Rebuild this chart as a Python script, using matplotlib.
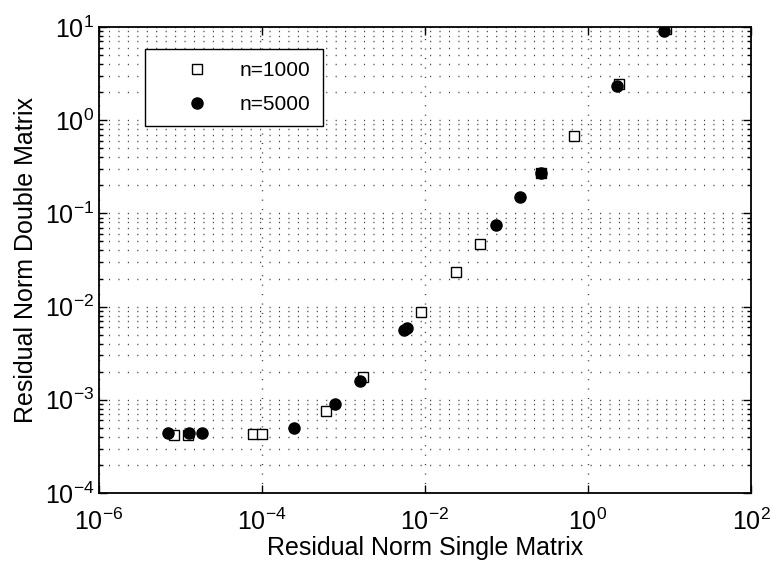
import numpy as np
import matplotlib
matplotlib.use('Agg')
import matplotlib.pyplot as plt
from matplotlib.ticker import LogLocator, NullLocator

plt.rcParams['font.family'] = ['Liberation Sans', 'DejaVu Sans']
plt.rcParams['mathtext.default'] = 'regular'

# residual norms
n1000_single = [8.3e-6, 1.24e-5, 7.8e-5, 1.0e-4, 6.1e-4, 1.73e-3, 8.9e-3,
                0.024, 0.047, 0.265, 0.673, 2.40, 9.06]
n1000_double = [4.2e-4, 4.2e-4, 4.3e-4, 4.3e-4, 7.6e-4, 1.76e-3, 8.75e-3,
                0.0235, 0.047, 0.271, 0.676, 2.45, 9.5]

n5000_single = [7.0e-6, 1.27e-5, 1.84e-5, 2.47e-4, 7.9e-4, 1.59e-3, 5.5e-3,
                6.0e-3, 0.0743, 0.147, 0.265, 2.27, 8.57]
n5000_double = [4.4e-4, 4.4e-4, 4.4e-4, 5.0e-4, 9.0e-4, 1.59e-3, 5.6e-3,
                5.9e-3, 0.075, 0.150, 0.27, 2.33, 9.06]

fig = plt.figure(figsize=(7.71, 5.64), dpi=100)
ax = fig.add_axes([99/771, 71/564, 652/771, 466/564])

ax.loglog(n1000_single, n1000_double, 's', markersize=7.5, markerfacecolor='white',
          markeredgecolor='black', markeredgewidth=1.0, label='n=1000')
ax.loglog(n5000_single, n5000_double, 'o', markersize=8, color='black',
          label='n=5000')

ax.set_xlim(1e-6, 1e2)
ax.set_ylim(1e-4, 1e1)

ax.xaxis.set_major_locator(LogLocator(base=100))
ax.xaxis.set_minor_locator(NullLocator())
ax.yaxis.set_major_locator(LogLocator(base=10))
ax.yaxis.set_minor_locator(LogLocator(base=10, subs=np.arange(2, 10)))

gridstyle = dict(linestyle=(0, (0.8, 6)), color='0.25', linewidth=1.0)
ax.xaxis.grid(True, which='major', **gridstyle)
ax.yaxis.grid(True, which='both', **gridstyle)

ax.tick_params(which='both', direction='in', top=True, right=True,
               labelsize=18, width=1.0)
ax.tick_params(which='major', length=6)
ax.tick_params(which='minor', length=3)
ax.tick_params(axis='x', pad=11)
for s in ax.spines.values():
    s.set_linewidth(1.3)

ax.set_xlabel('Residual Norm Single Matrix', fontsize=18, labelpad=1)
ax.set_ylabel('Residual Norm Double Matrix', fontsize=18, labelpad=5)

leg = ax.legend(loc='upper left', bbox_to_anchor=(0.07, 0.953), fontsize=15,
                fancybox=False, framealpha=1, edgecolor='black',
                borderpad=0.6, labelspacing=0.7, handlelength=3.8,
                handletextpad=0.16, borderaxespad=0)
leg.get_frame().set_linewidth(1.0)

fig.savefig('out.png', dpi=100)
